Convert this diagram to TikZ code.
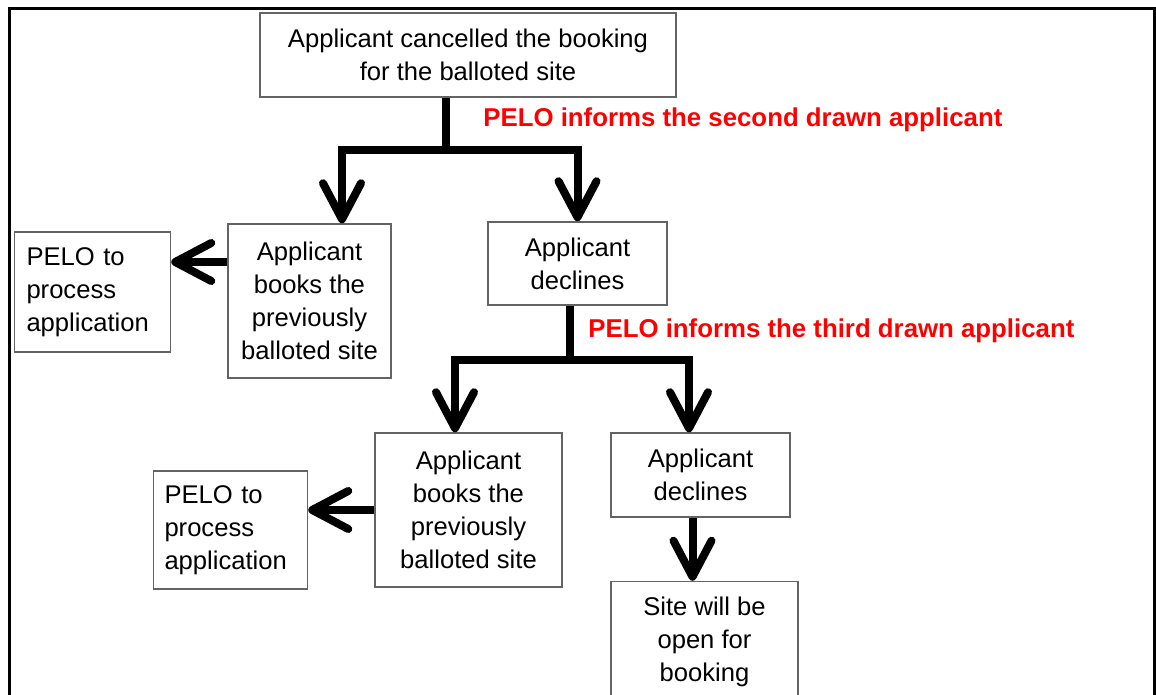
\documentclass[tikz,border=0pt]{standalone}
\usepackage{fontspec}
\setmainfont{Liberation Sans}
\usepackage{xcolor}
\usepackage{tikz}
\usetikzlibrary{arrows.meta, positioning}
\definecolor{boxgray}{RGB}{100,100,100}
\definecolor{infored}{RGB}{255,0,0}
\tikzset{
  box/.style={rectangle, draw=boxgray, line width=0.75pt, align=center,
    inner sep=0pt, font=\fontsize{12.8}{16.5}\selectfont},
  leftbox/.style={box, align=left, text width=66pt, inner xsep=5.5pt},
  arrow/.style={-{Straight Barb[length=18pt,width=19pt,round]}, line width=4pt},
  line/.style={line width=4pt},
  infolbl/.style={text=infored, font=\fontsize{12.9}{15}\selectfont\bfseries,
    inner sep=0pt, anchor=west},
  frame/.style={line width=1.5pt}
}

\begin{document}
\begin{tikzpicture}[x=0.5pt, y=-0.5pt]
  \useasboundingbox (0,0) rectangle (1156,695);
  \draw[frame] (9,720) -- (9,9) -- (1154,9) -- (1154,720);
  \node[box, minimum width=208pt, minimum height=42pt] (cancel) at (468,55) {Applicant cancelled the booking\\for the balloted site};
  \node[box, minimum width=81.5pt, minimum height=77pt] (books1) at (309.5,301) {Applicant\\books the\\previously\\balloted site};
  \node[box, minimum width=89.5pt, minimum height=41.5pt] (declines1) at (577.5,263.5) {Applicant\\declines};
  \node[leftbox, minimum width=78pt, minimum height=60pt, left=28pt of books1, yshift=4.5pt] (pelo1) {PELO to\\process\\application};
  \node[box, minimum width=93.5pt, minimum height=77pt] (books2) at (468.5,510) {Applicant\\books the\\previously\\balloted site};
  \node[box, minimum width=89.5pt, minimum height=42pt] (declines2) at (700.5,475) {Applicant\\declines};
  \node[leftbox, minimum height=59pt, left=33pt of books2, yshift=-10pt] (pelo2) {PELO to\\process\\application};
  \node[box, minimum width=93.5pt, minimum height=60pt, below=31.5pt of declines2.south west, anchor=north west] (site) {Site will be\\open for\\booking};
  \node[infolbl] (inform2) at (483,120) {PELO informs the second drawn applicant};
  \node[infolbl] (inform3) at (588,331) {PELO informs the third drawn applicant};
  % first split
  \coordinate (fork1) at (446,150);
  \coordinate (fork1l) at (342,150);
  \draw[line] (cancel.south -| fork1) -- (fork1);
  \draw[arrow] (fork1) -- (fork1l) -- (books1.north -| fork1l);
  \draw[arrow] (fork1) -| (declines1.north);
  % second split
  \coordinate (fork2) at (570,360);
  \coordinate (fork2l) at (455,360);
  \coordinate (fork2r) at (689,360);
  \draw[line] (declines1.south -| fork2) -- (fork2);
  \draw[arrow] (fork2) -- (fork2l) -- (books2.north -| fork2l);
  \draw[arrow] (fork2) -- (fork2r) -- (declines2.north -| fork2r);
  \coordinate (b1w) at ([yshift=19.5pt]books1.west);
  \draw[arrow] (b1w) -- (b1w -| pelo1.east);
  \draw[arrow] (books2.west) -- (books2.west -| pelo2.east);
  \coordinate (d2s) at ([xshift=-4pt]declines2.south);
  \draw[arrow] (d2s) -- (d2s |- site.north);
\end{tikzpicture}
\end{document}
